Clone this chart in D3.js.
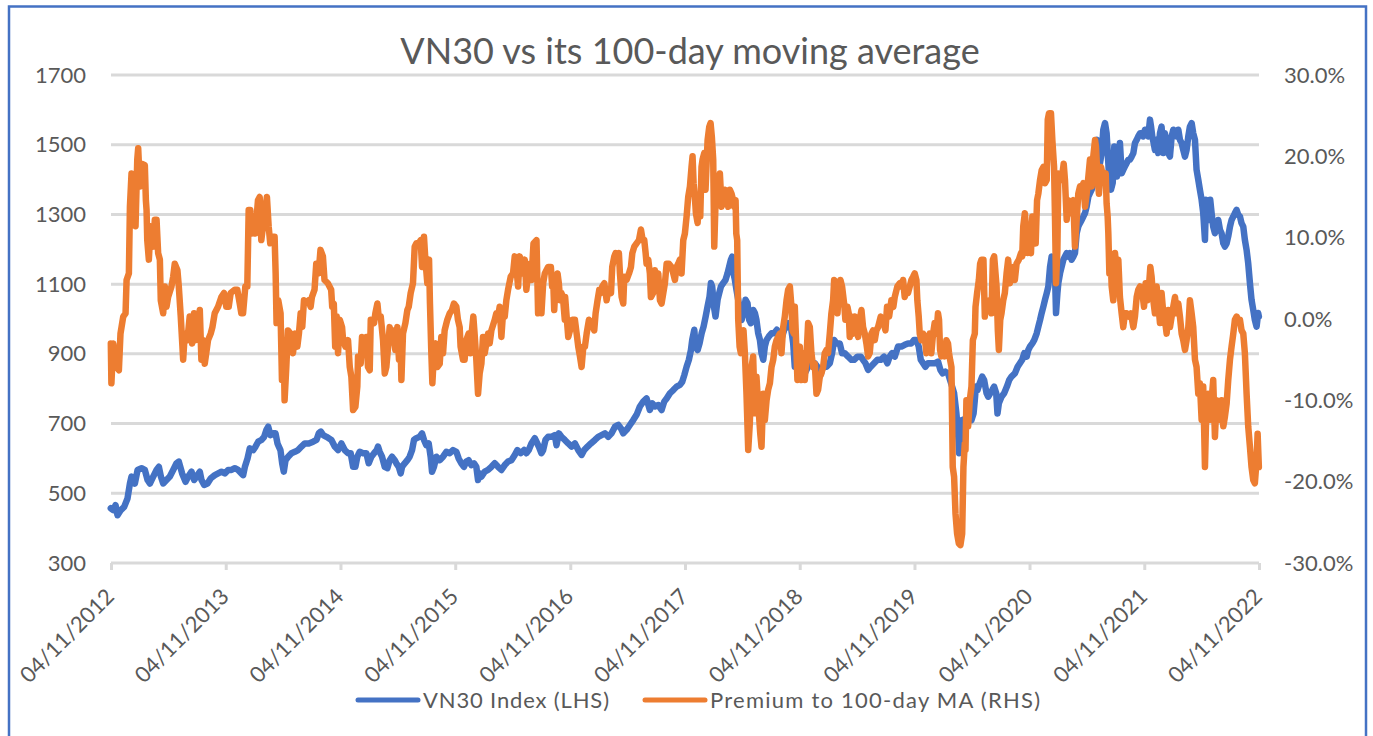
<!DOCTYPE html>
<html>
<head>
<meta charset="utf-8">
<script src="https://cdn.jsdelivr.net/npm/d3@7"></script>
<style>
  body { margin: 0; background: #fff; }
  svg text { font-family: Lato, "Open Sans", sans-serif; fill: #595959; }
</style>
</head>
<body>
<svg id="chart" width="1373" height="736"></svg>
<script>
// [decimal year, VN30 index level]
const vn30Index = [
  [2012.840,457],[2012.861,452],[2012.881,466],[2012.898,437],[2012.927,452],[2012.956,461],[2012.985,485],[2013.006,528],[2013.020,548],[2013.049,528],
  [2013.073,567],[2013.107,572],[2013.136,567],[2013.160,538],[2013.180,528],[2013.209,548],[2013.238,567],[2013.258,576],[2013.276,548],[2013.296,528],
  [2013.325,538],[2013.354,548],[2013.383,567],[2013.412,586],[2013.432,591],[2013.461,557],[2013.491,533],[2013.514,548],[2013.543,562],[2013.566,538],
  [2013.595,552],[2013.615,562],[2013.630,538],[2013.653,524],[2013.682,528],[2013.711,543],[2013.746,552],[2013.775,557],[2013.804,562],[2013.833,557],
  [2013.862,567],[2013.891,567],[2013.920,572],[2013.949,567],[2013.978,557],[2013.993,552],[2014.008,576],[2014.031,600],[2014.051,629],[2014.080,624],
  [2014.101,634],[2014.124,648],[2014.153,653],[2014.176,662],[2014.196,682],[2014.211,691],[2014.231,667],[2014.254,672],[2014.275,672],[2014.292,643],
  [2014.304,634],[2014.318,624],[2014.333,586],[2014.347,562],[2014.362,595],[2014.385,605],[2014.414,615],[2014.443,619],[2014.472,624],[2014.501,634],
  [2014.530,643],[2014.565,643],[2014.603,648],[2014.632,653],[2014.652,672],[2014.670,677],[2014.690,667],[2014.719,662],[2014.762,653],[2014.791,634],
  [2014.820,624],[2014.849,643],[2014.878,624],[2014.907,615],[2014.930,615],[2014.951,576],[2014.971,576],[2014.988,605],[2015.009,619],[2015.038,615],
  [2015.067,615],[2015.087,586],[2015.110,605],[2015.134,615],[2015.157,624],[2015.168,634],[2015.183,619],[2015.203,605],[2015.227,576],[2015.250,572],
  [2015.270,595],[2015.290,605],[2015.314,595],[2015.328,586],[2015.349,576],[2015.366,557],[2015.378,576],[2015.401,586],[2015.424,595],[2015.444,605],
  [2015.465,624],[2015.482,653],[2015.502,658],[2015.531,662],[2015.552,672],[2015.569,653],[2015.589,638],[2015.610,643],[2015.627,605],[2015.639,562],
  [2015.656,576],[2015.677,605],[2015.706,595],[2015.735,605],[2015.764,619],[2015.793,615],[2015.822,624],[2015.851,619],[2015.871,600],[2015.894,586],
  [2015.917,576],[2015.938,591],[2015.958,595],[2015.981,581],[2016.005,586],[2016.025,576],[2016.040,538],[2016.054,557],[2016.069,548],[2016.098,562],
  [2016.127,567],[2016.156,576],[2016.185,586],[2016.214,576],[2016.243,567],[2016.272,581],[2016.301,591],[2016.330,595],[2016.359,610],[2016.382,624],
  [2016.411,615],[2016.440,624],[2016.460,615],[2016.481,624],[2016.504,643],[2016.533,658],[2016.548,648],[2016.568,634],[2016.591,615],[2016.606,624],
  [2016.626,653],[2016.649,662],[2016.678,662],[2016.707,667],[2016.722,638],[2016.742,672],[2016.765,662],[2016.794,653],
  [2016.824,643],[2016.853,634],[2016.882,643],[2016.911,624],[2016.940,610],[2016.963,624],[2016.992,634],[2017.021,643],[2017.056,653],[2017.085,662],
  [2017.114,667],[2017.143,672],[2017.172,662],[2017.201,672],[2017.231,691],[2017.260,696],[2017.283,686],[2017.303,672],[2017.332,682],[2017.361,696],
  [2017.390,710],[2017.419,725],[2017.448,749],[2017.477,763],[2017.506,772],[2017.535,739],[2017.556,758],[2017.579,749],[2017.608,753],[2017.637,739],
  [2017.660,763],[2017.681,772],[2017.710,787],[2017.739,796],[2017.768,806],[2017.797,811],[2017.817,820],[2017.835,839],[2017.855,863],[2017.875,883],
  [2017.893,911],[2017.904,940],[2017.922,969],[2017.933,921],[2017.951,911],[2017.968,930],[2017.986,959],[2018.003,978],[2018.021,1007],[2018.038,1036],
  [2018.055,1064],[2018.067,1103],[2018.078,1093],[2018.093,1036],[2018.107,1007],[2018.125,1055],[2018.139,1074],[2018.154,1093],[2018.174,1103],[2018.194,1112],
  [2018.212,1131],[2018.226,1150],[2018.241,1170],[2018.253,1179],[2018.264,1131],[2018.276,1112],[2018.290,1083],[2018.305,1055],[2018.319,1026],[2018.334,997],
  [2018.351,1017],[2018.369,1055],[2018.386,1045],[2018.401,997],[2018.415,988],[2018.435,1026],[2018.450,1017],[2018.464,997],[2018.479,959],[2018.494,940],
  [2018.508,902],[2018.523,883],[2018.537,921],[2018.552,940],[2018.572,950],[2018.595,959],[2018.618,959],[2018.642,969],[2018.668,959],[2018.688,950],
  [2018.706,969],[2018.726,978],[2018.740,988],[2018.764,978],[2018.784,930],
  [2018.798,863],[2018.827,873],[2018.856,863],[2018.885,844],[2018.914,863],[2018.943,873],[2018.972,873],[2018.995,863],[2019.016,835],[2019.045,863],
  [2019.074,863],[2019.103,873],[2019.123,902],[2019.141,940],[2019.161,930],[2019.190,930],[2019.210,902],[2019.234,902],[2019.263,892],[2019.292,883],
  [2019.315,883],[2019.344,892],[2019.373,892],[2019.393,883],[2019.414,873],[2019.437,854],[2019.460,863],[2019.489,873],[2019.518,883],[2019.547,883],
  [2019.576,892],[2019.605,873],[2019.625,892],[2019.646,902],[2019.669,892],[2019.698,921],[2019.727,921],[2019.756,926],[2019.785,930],[2019.814,930],
  [2019.837,940],[2019.858,940],[2019.878,921],[2019.896,883],[2019.916,873],[2019.936,863],[2019.959,873],[2019.988,873],[2020.017,873],[2020.046,878],
  [2020.067,854],[2020.087,844],[2020.110,849],[2020.133,844],[2020.151,825],[2020.169,806],[2020.186,787],[2020.206,729],[2020.221,672],[2020.229,615],
  [2020.241,672],[2020.256,710],[2020.273,710],[2020.293,720],[2020.314,720],[2020.337,710],[2020.355,729],[2020.366,768],[2020.375,806],[2020.389,796],
  [2020.409,816],[2020.430,835],[2020.447,825],[2020.468,787],[2020.482,777],[2020.500,787],[2020.517,796],[2020.534,806],[2020.552,787],[2020.563,729],
  [2020.575,758],[2020.598,777],[2020.621,787],[2020.645,806],[2020.665,825],[2020.685,835],[2020.714,844],[2020.738,863],[2020.758,873],[2020.778,883],
  [2020.796,902],
  [2020.817,892],[2020.831,911],[2020.846,921],[2020.866,930],[2020.883,940],[2020.904,959],[2020.918,978],[2020.933,997],[2020.947,1017],[2020.962,1036],
  [2020.976,1055],[2020.991,1074],[2021.005,1093],[2021.020,1150],[2021.034,1179],[2021.049,1170],[2021.063,1131],[2021.072,1017],[2021.084,1074],[2021.092,1103],
  [2021.107,1131],[2021.121,1150],[2021.136,1170],[2021.150,1179],[2021.165,1189],[2021.179,1179],[2021.194,1189],[2021.208,1170],[2021.223,1179],[2021.237,1189],
  [2021.252,1246],[2021.266,1265],[2021.281,1275],[2021.296,1284],[2021.310,1294],[2021.325,1304],[2021.339,1323],[2021.354,1351],[2021.368,1361],[2021.383,1371],
  [2021.397,1390],[2021.412,1418],[2021.420,1505],[2021.429,1514],[2021.441,1466],[2021.455,1447],[2021.470,1476],[2021.484,1543],[2021.499,1562],[2021.513,1533],
  [2021.528,1447],[2021.537,1390],[2021.551,1371],[2021.566,1390],[2021.580,1495],[2021.592,1438],[2021.603,1409],[2021.615,1466],[2021.629,1505],[2021.644,1418],
  [2021.658,1428],[2021.673,1438],[2021.687,1447],[2021.702,1457],[2021.716,1457],[2021.731,1466],[2021.746,1476],[2021.760,1505],[2021.775,1514],[2021.789,1524],
  [2021.804,1533],[2021.818,1533],[2021.833,1524],[2021.847,1543],[2021.862,1533],[2021.876,1524],[2021.891,1572],[2021.900,1552],[2021.911,1524],[2021.923,1505],
  [2021.934,1485],[2021.949,1514],[2021.963,1476],[2021.978,1533],[2021.992,1552],[2022.007,1476],[2022.021,1533],[2022.036,1505],[2022.050,1476],[2022.065,1466],
  [2022.080,1524],[2022.094,1543],[2022.109,1533],[2022.123,1524],[2022.138,1543],[2022.152,1514],[2022.167,1505],[2022.181,1485],[2022.196,1466],[2022.210,1485],
  [2022.225,1524],[2022.239,1552],[2022.254,1562],[2022.268,1533],[2022.283,1514],[2022.297,1428],[2022.312,1399],[2022.326,1371],[2022.341,1342],[2022.355,1304],
  [2022.370,1227],[2022.379,1342],[2022.393,1313],[2022.405,1284],[2022.416,1342],[2022.428,1304],[2022.442,1265],[2022.457,1246],[2022.471,1265],[2022.486,1284],
  [2022.501,1256],[2022.515,1246],[2022.530,1217],[2022.544,1208],[2022.559,1217],[2022.573,1237],[2022.588,1265],[2022.602,1284],[2022.617,1294],[2022.631,1304],
  [2022.646,1313],[2022.660,1299],[2022.675,1294],[2022.689,1275],[2022.704,1265],[2022.718,1227],[2022.733,1198],[2022.747,1160],[2022.762,1103],[2022.776,1055],
  [2022.791,1026],[2022.805,997],[2022.820,978],[2022.834,1017],[2022.840,1007]
];

// [decimal year, premium to 100-day MA in %]
const premiumMA = [
  [2012.840,-3.0],[2012.845,-7.9],[2012.861,-3.0],[2012.890,-5.9],[2012.910,-6.3],[2012.924,-1.8],[2012.948,0.3],[2012.968,0.7],[2012.977,4.8],[2012.997,5.6],
  [2013.006,13.8],[2013.020,17.9],[2013.044,17.1],[2013.055,11.4],[2013.070,19.6],[2013.078,21.0],[2013.093,16.3],[2013.107,19.1],[2013.136,18.9],[2013.145,14.6],
  [2013.151,13.4],[2013.157,9.7],[2013.171,7.3],[2013.186,11.4],[2013.209,8.9],[2013.223,12.2],[2013.238,12.2],[2013.252,8.1],[2013.267,7.3],[2013.275,2.3],
  [2013.296,0.7],[2013.310,4.0],[2013.325,1.5],[2013.339,2.7],[2013.368,4.0],[2013.383,5.2],[2013.397,6.8],[2013.420,6.0],[2013.432,4.0],[2013.449,0.3],
  [2013.470,-5.0],[2013.484,-1.8],[2013.507,-2.6],[2013.527,0.3],[2013.548,-3.0],[2013.565,0.7],[2013.577,-2.6],[2013.600,-1.0],[2013.615,1.1],[2013.629,-5.0],
  [2013.644,-2.6],[2013.658,-5.5],[2013.687,-2.6],[2013.710,-1.8],[2013.725,-1.0],[2013.745,0.7],[2013.774,1.5],[2013.803,2.7],[2013.826,3.2],[2013.846,1.5],
  [2013.867,1.5],[2013.884,3.2],[2013.919,3.6],[2013.942,3.6],[2013.963,1.9],[2013.977,0.7],[2013.992,0.7],[2014.012,4.0],[2014.029,4.0],[2014.041,13.4],
  [2014.055,13.4],[2014.070,10.5],[2014.087,12.2],[2014.099,10.5],[2014.122,14.6],[2014.137,15.0],[2014.151,9.7],[2014.166,11.4],[2014.180,13.0],[2014.200,15.0],
  [2014.215,11.4],[2014.229,9.3],[2014.238,10.1],[2014.267,10.1],[2014.276,5.6],[2014.284,-0.5],[2014.299,2.3],[2014.319,0.7],[2014.331,-7.5],[2014.345,-2.6],
  [2014.354,-10.0],[2014.369,-5.9],[2014.383,-1.4],[2014.406,-1.8],[2014.427,-4.2],[2014.447,-1.8],[2014.465,-3.4],[2014.479,-1.8],[2014.494,0.7],[2014.508,-1.0],
  [2014.523,2.3],[2014.543,2.1],[2014.563,2.3],[2014.581,1.5],[2014.592,2.7],[2014.615,3.6],[2014.630,6.8],[2014.650,5.6],[2014.667,8.5],[2014.688,7.7],
  [2014.702,4.8],[2014.731,4.4],[2014.760,3.6],[2014.769,1.5],[2014.783,1.9],[2014.795,-3.4],[2014.808,0.3],
  [2014.820,-4.2],[2014.835,-0.1],[2014.855,-1.0],[2014.864,-2.6],[2014.884,-3.4],[2014.907,-2.6],[2014.922,-5.9],[2014.936,-7.1],[2014.951,-11.2],[2014.971,-10.8],
  [2014.988,-8.3],[2014.994,-4.6],[2015.017,-5.5],[2015.029,-2.2],[2015.052,-4.2],[2015.067,-2.2],[2015.081,-5.9],[2015.096,-6.3],[2015.105,-0.1],[2015.134,-0.5],
  [2015.145,0.7],[2015.163,1.9],[2015.174,0.3],[2015.192,0.3],[2015.212,-2.6],[2015.227,-6.7],[2015.241,-5.9],[2015.256,-3.4],[2015.270,-1.0],[2015.285,-2.6],
  [2015.299,-1.4],[2015.319,-3.8],[2015.337,-1.0],[2015.351,-5.0],[2015.363,-1.8],[2015.372,-7.5],[2015.386,-1.8],[2015.407,-0.5],[2015.424,1.1],[2015.436,1.5],
  [2015.453,3.2],[2015.473,4.4],[2015.488,8.9],[2015.502,9.3],[2015.523,9.3],[2015.540,9.7],[2015.552,6.4],[2015.569,10.1],[2015.581,7.3],[2015.598,4.4],
  [2015.613,7.3],[2015.621,1.9],[2015.633,-4.2],[2015.642,-7.9],[2015.656,-4.2],[2015.671,-3.0],[2015.685,-5.9],[2015.706,-5.5],[2015.720,-2.2],[2015.735,-4.2],
  [2015.749,-1.4],[2015.772,-0.1],[2015.793,0.7],[2015.813,1.1],[2015.830,1.9],[2015.851,1.5],[2015.865,-0.1],[2015.880,-1.0],[2015.888,-3.4],[2015.909,-5.0],
  [2015.923,-5.0],[2015.938,-2.6],[2015.958,-1.8],[2015.973,-4.2],[2015.987,-1.4],[2015.999,0.3],[2016.010,-1.8],[2016.025,-5.0],[2016.040,-9.2],[2016.054,-6.7],
  [2016.069,-5.5],[2016.083,-2.2],[2016.098,-4.2],[2016.112,-3.0],[2016.127,-1.8],[2016.141,-3.0],[2016.156,-1.4],[2016.185,-0.1],[2016.199,0.7],[2016.214,0.3],
  [2016.228,1.5],[2016.243,-2.2],[2016.257,0.7],[2016.272,0.3],[2016.286,2.3],[2016.301,3.6],[2016.324,5.2],[2016.344,5.6],[2016.359,7.7],[2016.373,6.4],
  [2016.388,4.0],[2016.402,7.7],[2016.417,6.4],[2016.431,5.6],[2016.446,7.3],[2016.460,3.6],[2016.475,5.6],[2016.490,6.8],[2016.504,4.8],[2016.522,9.3],
  [2016.548,9.7],[2016.562,0.7],[2016.577,3.2],[2016.591,0.7],[2016.606,4.4],[2016.620,5.6],[2016.649,6.4],[2016.673,6.4],[2016.684,4.0],[2016.693,4.8],
  [2016.702,1.1],[2016.713,4.0],[2016.731,5.6],[2016.742,4.4],[2016.754,2.3],[2016.765,3.2],[2016.780,2.3],[2016.794,-0.1],
  [2016.797,2.7],[2016.810,0.3],[2016.824,-2.2],[2016.839,-1.4],[2016.859,-0.1],[2016.882,-0.1],[2016.897,-1.8],[2016.911,-3.4],[2016.926,-4.6],[2016.940,-5.9],
  [2016.955,-3.4],[2016.969,-3.4],[2016.984,-1.8],[2017.004,-0.1],[2017.027,-0.5],[2017.050,-1.4],[2017.062,0.7],[2017.079,2.3],[2017.094,3.6],[2017.109,3.2],
  [2017.120,4.0],[2017.138,4.4],[2017.158,2.3],[2017.172,3.6],[2017.196,3.2],[2017.207,6.4],[2017.225,7.7],[2017.236,8.1],[2017.254,7.7],[2017.265,8.1],
  [2017.274,5.6],[2017.289,2.7],[2017.303,1.9],[2017.312,5.2],[2017.332,4.8],[2017.353,5.6],[2017.370,6.4],[2017.382,8.1],[2017.399,8.9],[2017.419,9.3],
  [2017.440,9.7],[2017.457,11.0],[2017.472,9.7],[2017.486,9.7],[2017.498,8.1],[2017.506,6.8],[2017.521,7.3],[2017.535,5.6],[2017.544,2.7],[2017.564,3.2],
  [2017.579,6.0],[2017.593,4.0],[2017.608,5.6],[2017.623,2.3],[2017.637,1.9],[2017.652,3.2],[2017.666,4.4],[2017.681,6.8],[2017.701,6.8],[2017.724,6.4],
  [2017.739,5.6],[2017.753,4.8],[2017.768,6.4],[2017.782,6.8],[2017.797,7.3],[2017.811,5.6],[2017.826,9.7],[2017.840,10.5],[2017.855,12.6],[2017.869,15.0],
  [2017.884,16.3],[2017.898,18.7],[2017.907,20.0],[2017.916,16.7],[2017.927,15.0],[2017.936,13.0],[2017.951,11.8],[2017.962,14.6],[2017.974,12.6],[2017.985,18.7],
  [2017.994,19.6],[2018.009,20.4],[2018.020,15.9],[2018.038,22.0],[2018.052,23.6],[2018.064,24.1],[2018.075,22.4],[2018.087,19.6],[2018.096,8.9],[2018.107,14.2],
  [2018.125,14.6],[2018.145,17.9],[2018.160,13.8],[2018.174,14.6],[2018.189,15.9],[2018.203,15.4],[2018.218,13.8],[2018.232,15.9],[2018.247,15.4],[2018.261,14.6],
  [2018.270,13.8],[2018.282,14.6],[2018.288,10.5],[2018.296,9.7],[2018.305,-0.1],[2018.317,-3.4],[2018.328,-4.2],[2018.340,-1.8],[2018.351,-1.4],[2018.363,-4.2],
  [2018.377,-9.2],[2018.392,-16.1],[2018.406,-12.8],[2018.421,-5.9],[2018.435,-4.6],[2018.450,-11.6],[2018.464,-7.1],[2018.473,-9.2],[2018.485,-11.6],[2018.497,-14.1],
  [2018.508,-15.7],[2018.523,-9.2],[2018.537,-12.4],[2018.552,-10.0],[2018.566,-8.7],[2018.581,-7.9],[2018.595,-5.9],[2018.610,-5.0],[2018.624,-3.4],[2018.639,-2.6],
  [2018.653,-2.2],[2018.668,-1.8],[2018.682,-4.2],[2018.697,-1.0],[2018.711,0.3],[2018.726,2.3],[2018.740,3.6],[2018.755,4.0],[2018.769,1.5],[2018.778,-1.4],
  [2018.790,-1.8],
  [2018.798,1.5],[2018.807,-1.8],[2018.821,-7.5],[2018.842,-3.4],[2018.856,-7.5],[2018.871,-4.2],[2018.885,-7.5],[2018.900,-4.6],[2018.914,-0.5],[2018.929,-1.0],
  [2018.943,-4.2],[2018.958,-5.9],[2018.972,-5.5],[2018.987,-9.2],[2019.001,-8.7],[2019.016,-7.1],[2019.030,-6.7],[2019.045,-5.9],[2019.059,-4.2],[2019.074,-3.8],
  [2019.088,-4.2],[2019.103,-1.8],[2019.117,0.7],[2019.132,2.3],[2019.141,4.8],[2019.158,4.4],[2019.170,0.7],[2019.181,3.2],[2019.196,4.8],[2019.210,4.0],
  [2019.228,1.9],[2019.239,-0.1],[2019.257,1.5],[2019.268,0.7],[2019.277,-2.2],[2019.292,0.3],[2019.306,-1.8],[2019.321,0.3],[2019.335,-1.0],[2019.350,-2.2],
  [2019.364,-0.1],[2019.379,1.1],[2019.393,-1.0],[2019.408,-1.8],[2019.422,-3.0],[2019.437,-4.6],[2019.451,-4.2],[2019.466,-1.8],[2019.480,-1.4],[2019.495,-2.6],
  [2019.509,-1.4],[2019.524,-1.0],[2019.547,0.3],[2019.567,-0.1],[2019.588,-1.4],[2019.602,1.5],[2019.620,0.3],[2019.640,2.3],[2019.657,1.5],[2019.669,2.7],
  [2019.692,4.0],[2019.713,4.4],[2019.727,4.0],[2019.742,4.8],[2019.756,2.7],[2019.771,3.6],[2019.785,3.2],[2019.800,4.0],[2019.814,4.8],[2019.829,5.2],
  [2019.843,5.6],[2019.858,4.8],[2019.866,2.3],[2019.878,0.3],[2019.887,-1.8],[2019.901,-2.6],[2019.916,-1.8],[2019.930,-2.2],[2019.945,-4.2],[2019.959,-2.6],
  [2019.974,-1.8],[2019.988,-4.2],[2020.003,-1.8],[2020.017,-0.5],[2020.032,-1.8],[2020.046,0.7],[2020.055,-0.1],[2020.064,-3.8],[2020.075,-4.6],[2020.090,-4.2],
  [2020.104,-4.6],[2020.119,-2.6],[2020.133,-3.0],[2020.142,-4.2],[2020.151,-5.0],[2020.163,-5.9],[2020.174,-18.2],[2020.186,-19.4],[2020.198,-23.9],[2020.212,-26.4],
  [2020.227,-27.6],[2020.241,-27.8],[2020.256,-26.4],[2020.267,-18.2],[2020.279,-15.3],[2020.285,-16.1],[2020.293,-10.0],[2020.308,-13.2],[2020.322,-10.0],[2020.337,-8.3],
  [2020.349,-2.6],[2020.366,-1.8],[2020.372,1.5],[2020.386,3.2],[2020.401,4.8],[2020.412,6.8],[2020.424,7.3],[2020.441,7.3],[2020.453,0.3],[2020.468,2.3],
  [2020.482,1.5],[2020.497,2.3],[2020.511,0.7],[2020.523,7.3],[2020.534,7.7],[2020.546,5.6],[2020.555,4.0],[2020.566,-1.4],[2020.575,-3.8],[2020.587,-0.1],
  [2020.598,0.7],[2020.613,2.3],[2020.627,3.2],[2020.642,5.6],[2020.656,7.3],[2020.671,4.4],[2020.685,5.2],[2020.700,6.4],[2020.714,4.8],[2020.729,6.8],
  [2020.749,7.3],[2020.767,8.1],[2020.778,7.7],[2020.787,11.4],[2020.801,13.0],
  [2020.817,10.5],[2020.825,8.1],[2020.837,8.9],[2020.854,8.1],[2020.866,12.6],[2020.883,10.5],[2020.895,9.3],[2020.907,14.6],[2020.918,15.4],[2020.933,17.1],
  [2020.947,18.3],[2020.962,18.7],[2020.976,16.7],[2020.991,17.1],[2021.000,24.5],[2021.011,25.3],[2021.028,25.3],[2021.040,22.0],[2021.055,18.7],[2021.063,12.6],
  [2021.072,4.4],[2021.084,8.5],[2021.092,17.9],[2021.107,17.5],[2021.121,17.1],[2021.139,19.1],[2021.150,17.1],[2021.165,12.2],[2021.179,14.6],[2021.194,13.0],
  [2021.208,14.2],[2021.223,14.6],[2021.237,8.9],[2021.252,12.2],[2021.266,15.4],[2021.281,16.3],[2021.296,15.9],[2021.310,16.7],[2021.325,13.8],[2021.339,15.4],
  [2021.354,17.5],[2021.368,19.6],[2021.383,16.3],[2021.397,20.0],[2021.412,22.0],[2021.420,21.2],[2021.432,17.9],[2021.446,15.4],[2021.464,18.7],[2021.476,17.9],
  [2021.493,17.1],[2021.505,17.9],[2021.513,14.2],[2021.522,12.6],[2021.528,10.5],[2021.537,5.6],[2021.548,7.7],[2021.557,4.0],[2021.571,2.3],[2021.586,8.1],
  [2021.600,6.0],[2021.615,7.3],[2021.629,2.7],[2021.644,0.7],[2021.658,-1.0],[2021.673,0.7],[2021.687,0.7],[2021.708,0.3],[2021.725,0.7],[2021.746,-1.0],
  [2021.760,0.3],[2021.775,2.7],[2021.789,3.6],[2021.804,4.0],[2021.824,3.2],[2021.839,1.5],[2021.853,4.4],[2021.868,2.3],[2021.882,4.0],[2021.894,6.4],
  [2021.905,5.2],[2021.920,2.3],[2021.934,0.7],[2021.949,4.0],[2021.963,1.9],[2021.978,-0.5],[2021.992,3.2],[2022.007,0.7],[2022.021,-0.1],[2022.036,-1.8],
  [2022.050,1.1],[2022.065,-1.0],[2022.080,0.3],[2022.094,1.5],[2022.109,2.7],[2022.123,0.7],[2022.138,1.9],[2022.152,0.3],[2022.167,-1.8],[2022.181,-2.6],
  [2022.196,-3.8],[2022.210,-2.6],[2022.225,-1.0],[2022.239,2.3],[2022.254,0.7],[2022.268,-1.0],[2022.283,-5.0],[2022.297,-5.9],[2022.312,-9.2],[2022.326,-7.9],
  [2022.341,-12.4],[2022.355,-8.3],[2022.370,-18.2],[2022.384,-10.0],[2022.399,-9.2],[2022.413,-12.4],[2022.428,-10.0],[2022.442,-7.5],[2022.457,-14.5],[2022.471,-10.0],
  [2022.486,-11.6],[2022.501,-12.4],[2022.515,-10.0],[2022.530,-13.2],[2022.544,-12.0],[2022.559,-10.4],[2022.573,-7.5],[2022.588,-5.0],[2022.602,-3.4],[2022.617,-1.8],
  [2022.631,-0.1],[2022.646,0.3],[2022.660,-0.1],[2022.675,-0.1],[2022.689,-1.4],[2022.704,-1.8],[2022.718,-4.2],[2022.733,-9.2],[2022.747,-13.2],[2022.762,-15.7],
  [2022.776,-18.2],[2022.791,-19.8],[2022.805,-20.2],[2022.820,-17.4],[2022.829,-14.1],[2022.840,-18.2]
];

const leftTicks = [300, 500, 700, 900, 1100, 1300, 1500, 1700];
const rightTicks = [-30, -20, -10, 0, 10, 20, 30];
const tickYears = [2012, 2013, 2014, 2015, 2016, 2017, 2018, 2019, 2020, 2021, 2022];
const tickLabels = ["04/11/2012", "04/11/2013", "04/11/2014", "04/11/2015", "04/11/2016", "04/11/2017",
                    "04/11/2018", "04/11/2019", "04/11/2020", "04/11/2021", "04/11/2022"];
const seriesNames = ["VN30 Index (LHS)", "Premium to 100-day MA (RHS)"];
const seriesColors = ["#4472C4", "#ED7D31"];
const title = "VN30 vs its 100-day moving average";

// decimal year -> Date
function yearToDate(t) {
  const y = Math.floor(t);
  const s = new Date(y, 0, 1), e = new Date(y + 1, 0, 1);
  return new Date(+s + (t - y) * (e - s));
}

const margin = {left: 111, right: 114, top: 75, bottom: 173};
const width = 1373 - margin.left - margin.right;
const height = 736 - margin.top - margin.bottom;

const svg = d3.select("#chart");

// chart border
svg.append("rect")
  .attr("x", 9).attr("y", 6.5)
  .attr("width", 1357).attr("height", 760)
  .attr("fill", "none")
  .attr("stroke", "#4472C4")
  .attr("stroke-width", 2.5);

svg.append("text")
  .attr("x", 690).attr("y", 64)
  .attr("text-anchor", "middle")
  .attr("font-size", "36px")
  .text(title);

const g = svg.append("g")
  .attr("transform", "translate(" + margin.left + "," + margin.top + ")");

const xScale = d3.scaleTime()
  .domain([new Date(2012, 10, 4), new Date(2022, 10, 4)])
  .range([0, width]);

const yLeft = d3.scaleLinear().domain([300, 1700]).range([height, 0]);
const yRight = d3.scaleLinear().domain([-30, 30]).range([height, 0]);

// gridlines
g.selectAll("line.grid")
  .data(leftTicks)
  .enter()
  .append("line")
  .attr("class", "grid")
  .attr("x1", 0).attr("x2", width)
  .attr("y1", d => yLeft(d)).attr("y2", d => yLeft(d))
  .attr("stroke", "#D9D9D9")
  .attr("stroke-width", 3);

// left axis
const yLeftAxis = g.append("g")
  .call(d3.axisLeft(yLeft).tickValues(leftTicks).tickSize(0).tickPadding(25)
    .tickFormat(d3.format("d")));
yLeftAxis.select(".domain").remove();
yLeftAxis.selectAll("text").attr("font-size", "22px").attr("fill", "#595959");

// right axis
const yRightAxis = g.append("g")
  .attr("transform", "translate(" + width + ",0)")
  .call(d3.axisRight(yRight).tickValues(rightTicks).tickSize(0).tickPadding(25)
    .tickFormat(d => d.toFixed(1) + "%"));
yRightAxis.select(".domain").remove();
yRightAxis.selectAll("text").attr("font-size", "22px").attr("fill", "#595959");

// x axis
const tickDates = tickYears.map(y => new Date(y, 10, 4));
const xAxis = g.append("g")
  .attr("transform", "translate(0," + height + ")")
  .call(d3.axisBottom(xScale).tickValues(tickDates).tickSize(7)
    .tickFormat((d, i) => tickLabels[i]));
xAxis.select(".domain").remove();
xAxis.selectAll(".tick line").attr("stroke", "#D9D9D9").attr("stroke-width", 3);
xAxis.selectAll("text")
  .attr("font-size", "22px")
  .attr("fill", "#595959")
  .attr("text-anchor", "end")
  .attr("x", 0).attr("y", 0).attr("dy", null)
  .attr("transform", "translate(4,35) rotate(-45)");

// series
const lineLeft = d3.line()
  .x(d => xScale(yearToDate(d[0])))
  .y(d => yLeft(d[1]));
const lineRight = d3.line()
  .x(d => xScale(yearToDate(d[0])))
  .y(d => yRight(d[1]));

g.append("path")
  .datum(vn30Index)
  .attr("d", lineLeft)
  .attr("fill", "none")
  .attr("stroke", seriesColors[0])
  .attr("stroke-width", 6.5)
  .attr("stroke-linejoin", "round")
  .attr("stroke-linecap", "round");

g.append("path")
  .datum(premiumMA)
  .attr("d", lineRight)
  .attr("fill", "none")
  .attr("stroke", seriesColors[1])
  .attr("stroke-width", 6.5)
  .attr("stroke-linejoin", "round")
  .attr("stroke-linecap", "round");

// legend
const legendItems = [
  {name: seriesNames[0], color: seriesColors[0], x: 358, len: 186},
  {name: seriesNames[1], color: seriesColors[1], x: 645, len: 330}
];
const legend = svg.append("g").attr("transform", "translate(0,700)");
legend.selectAll("line")
  .data(legendItems)
  .enter()
  .append("line")
  .attr("x1", d => d.x).attr("x2", d => d.x + 60)
  .attr("y1", 0).attr("y2", 0)
  .attr("stroke", d => d.color)
  .attr("stroke-width", 5)
  .attr("stroke-linecap", "round");
legend.selectAll("text")
  .data(legendItems)
  .enter()
  .append("text")
  .attr("x", d => d.x + 65)
  .attr("y", 0)
  .attr("dy", "0.35em")
  .attr("font-size", "22px")
  .attr("textLength", d => d.len)
  .attr("lengthAdjust", "spacing")
  .text(d => d.name);
</script>
</body>
</html>
